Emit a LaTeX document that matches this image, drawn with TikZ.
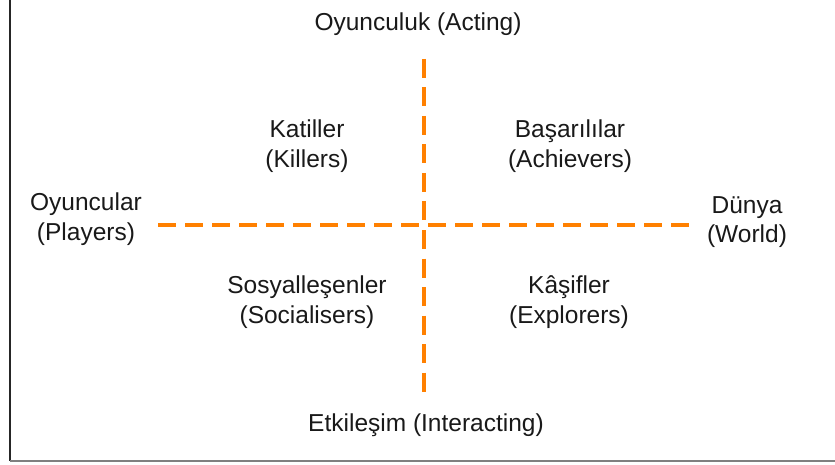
\documentclass[tikz,border=0pt]{standalone}
\usepackage{fontspec}
\setmainfont{Liberation Sans}
\definecolor{axisorange}{RGB}{255,128,0}
\definecolor{txt}{RGB}{25,25,25}
\begin{document}
\begin{tikzpicture}[x=1pt,y=-1pt,
  lbl/.style={text=txt,font=\fontsize{24.5}{29.5}\selectfont,align=center,inner sep=0pt},
  axisline/.style={draw=axisorange,line width=4pt},
  frameline/.style={line width=1.6pt}]
\useasboundingbox (0,0) rectangle (835,465);
% frame
\coordinate (ftop) at (10,0);
\coordinate (fcorner) at (10,461);
\coordinate (fright) at (835,461);
\draw[frameline,draw=black!85] (ftop) -- (fcorner);
\draw[frameline,draw=black!50] (fcorner) -- (fright);
% axes
\coordinate (vtop) at (424,59);
\coordinate (vbot) at (424,393);
\coordinate (hleft) at (158,225);
\coordinate (hright) at (693,225);
\draw[axisline,dash pattern=on 19pt off 9.5pt] (vtop) -- (vbot);
\draw[axisline,dash pattern=on 18pt off 9pt] (hleft) -- (hright);
% labels
\node[lbl] (acting) at (418,24) {Oyunculuk (Acting)};
\node[lbl] (interacting) at (426,425) {Etkileşim (Interacting)};
\node[lbl] (players) at (86,219) {Oyuncular\\(Players)};
\node[lbl] (world) at (747,222) {Dünya\\(World)};
\node[lbl] (killers) at (307,146) {Katiller\\(Killers)};
\node[lbl] (achievers) at (570,146) {Başarılılar\\(Achievers)};
\node[lbl] (socialisers) at (307,302) {Sosyalleşenler\\(Socialisers)};
\node[lbl] (explorers) at (569,302) {Kâşifler\\(Explorers)};
\end{tikzpicture}
\end{document}
